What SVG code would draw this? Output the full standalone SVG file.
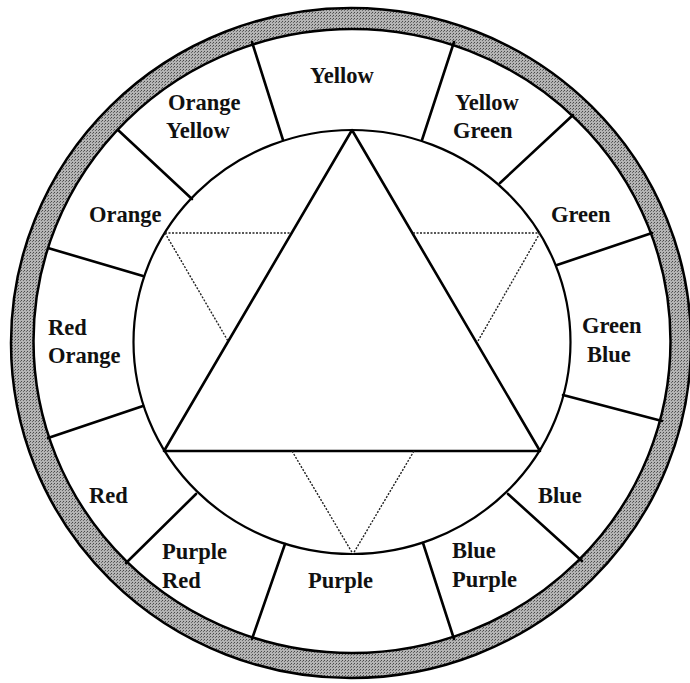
<svg xmlns="http://www.w3.org/2000/svg" width="690" height="683" viewBox="0 0 690 683">
<defs>
<pattern id="dots" width="3" height="3" patternUnits="userSpaceOnUse">
<rect width="3" height="3" fill="#b4b4b4"/>
<rect width="1" height="1" fill="#4a4a4a"/>
<rect x="2" y="1" width="1" height="1" fill="#6a6a6a"/>
</pattern>
</defs>
<style>
.lbl{font-family:"Liberation Serif","Times New Roman",serif;font-size:22.5px;font-weight:bold;fill:#111}
.div{stroke:#000;stroke-width:2.6;fill:none;stroke-linecap:round}
.tri{stroke:#000;stroke-width:2.6;fill:none;stroke-linejoin:round}
.dot{stroke:#222;stroke-width:1.4;stroke-dasharray:2 1.5;fill:none}
</style>
<rect width="690" height="683" fill="#fff"/>
<g id="ring">
<ellipse cx="351" cy="343" rx="340" ry="335" fill="url(#dots)" stroke="#000" stroke-width="2.5"/>
<ellipse cx="352" cy="341" rx="318.5" ry="312" fill="#fff" stroke="#000" stroke-width="2.5"/>
</g>
<g id="inner-circle">
<ellipse cx="352" cy="342" rx="218.5" ry="212" fill="none" stroke="#000" stroke-width="2.2"/>
</g>
<g id="connectors">
<line class="div" x1="283" y1="140" x2="252" y2="42"/>
<line class="div" x1="422" y1="140" x2="454" y2="42"/>
<line class="div" x1="192" y1="199" x2="118" y2="130"/>
<line class="div" x1="500" y1="183" x2="573" y2="115"/>
<line class="div" x1="143" y1="276" x2="48" y2="248"/>
<line class="div" x1="557" y1="265" x2="652" y2="233"/>
<line class="div" x1="143" y1="406" x2="48" y2="438"/>
<line class="div" x1="563" y1="395" x2="662" y2="421"/>
<line class="div" x1="196" y1="494" x2="126" y2="563"/>
<line class="div" x1="508" y1="494" x2="582" y2="561"/>
<line class="div" x1="285" y1="544" x2="252" y2="639"/>
<line class="div" x1="423" y1="543" x2="454" y2="639"/>
</g>
<g id="triangle">
<polygon class="tri" points="352,130 164,451 540,451"/>
</g>
<g id="dotted-triangle">
<line class="dot" x1="165" y1="233" x2="291" y2="233"/>
<line class="dot" x1="413" y1="233" x2="540" y2="233"/>
<line class="dot" x1="165" y1="233" x2="228" y2="341"/>
<line class="dot" x1="540" y1="233" x2="478" y2="341"/>
<line class="dot" x1="292" y1="451" x2="353" y2="554"/>
<line class="dot" x1="414" y1="451" x2="353" y2="554"/>
</g>
<g id="yellow"><text class="lbl" x="310" y="83">Yellow</text></g>
<g id="orange-yellow"><text class="lbl" x="168" y="110">Orange</text><text class="lbl" x="166" y="138">Yellow</text></g>
<g id="yellow-green"><text class="lbl" x="455" y="110">Yellow</text><text class="lbl" x="453" y="138">Green</text></g>
<g id="orange"><text class="lbl" x="89" y="222">Orange</text></g>
<g id="green"><text class="lbl" x="551" y="222">Green</text></g>
<g id="red-orange"><text class="lbl" x="48" y="335">Red</text><text class="lbl" x="48" y="363">Orange</text></g>
<g id="green-blue"><text class="lbl" x="582" y="333">Green</text><text class="lbl" x="587" y="362">Blue</text></g>
<g id="red"><text class="lbl" x="89" y="503">Red</text></g>
<g id="blue"><text class="lbl" x="538" y="503">Blue</text></g>
<g id="purple-red"><text class="lbl" x="162" y="559">Purple</text><text class="lbl" x="162" y="588">Red</text></g>
<g id="purple"><text class="lbl" x="308" y="588">Purple</text></g>
<g id="blue-purple"><text class="lbl" x="452" y="558">Blue</text><text class="lbl" x="452" y="587">Purple</text></g>
</svg>
